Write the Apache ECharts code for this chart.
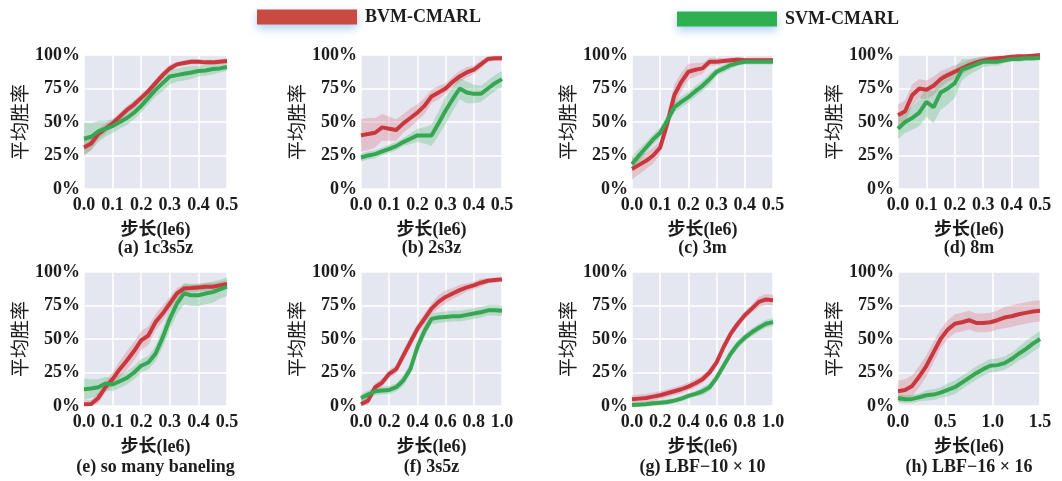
<!DOCTYPE html>
<html><head><meta charset="utf-8">
<script src="https://cdn.jsdelivr.net/npm/echarts@6/dist/echarts.min.js"></script>
<style>html,body{margin:0;padding:0;background:#fff}#c{width:1062px;height:481px}</style>
</head><body><div id="c"></div>
<script>
// ---- data (percent) ----
const x05 = [0,0.025,0.05,0.075,0.1,0.125,0.15,0.175,0.2,0.225,0.25,0.275,0.3,0.325,0.35,0.375,0.4,0.425,0.45,0.475,0.5];
const x10 = [0,0.05,0.1,0.15,0.2,0.25,0.3,0.35,0.4,0.45,0.5,0.55,0.6,0.65,0.7,0.75,0.8,0.85,0.9,0.95,1.0];
const x15 = [0,0.075,0.15,0.225,0.3,0.375,0.45,0.525,0.6,0.675,0.75,0.825,0.9,0.975,1.05,1.125,1.2,1.275,1.35,1.425,1.5];

const titles = ['(a) 1c3s5z','(b) 2s3z','(c) 3m','(d) 8m','(e) so many baneling','(f) 3s5z','(g) LBF\u221210 \u00d7 10','(h) LBF\u221216 \u00d7 16'];
const legendNames = ['BVM-CMARL','SVM-CMARL'];

const redA   = [31,34,41,45,49,54,59,63,68,73,79,85,90,93,94,95,95,94.5,94.5,95,95.5];
const redSA  = [6,5,4,4,3,3,3,3,3,3,3,3,3,2,2,2,2,2,2,2,2];
const grnA   = [37.5,39,43,45,47,50,53,57,62,68,74,79,84,85,86,87,88,88.5,89.5,90,91];
const grnSA  = [12,10,8,6,5,5,5,5,5,5,5,6,6,5,5,5,4,4,4,3,3];

const redB   = [40,41,42,46,45,44,49,53,57,62,69,72,75,80,84,87,89,93,97,97.5,97.5];
const redSB  = [12,12,11,10,9,8,7,7,6,6,5,5,4,4,4,4,3,3,2,2,2];
const grnB   = [23.5,25,26,28,30,32,35,37.5,40,40,40,49,58.6,67,75,72,71,71,75,79,82];
const grnSB  = [3,3,3,3,3,3,3,4,5,6,8,9,10,9,8,8,7,6,6,6,6];

const redC   = [15,18,21,25,31,49,70,80,87.5,89,90,95,95,95.5,96,96.5,96,96,96,96,96];
const redSC  = [8,7,6,6,5,7,8,7,6,5,4,3,3,2,2,2,2,2,2,2,2];
const grnC   = [18.5,25,31,37,42,51,61,65,68.6,73,77,82,87.5,90,92.5,94,95,95,95,95,95];
const grnSC  = [6,5,4,4,4,4,4,4,4,4,4,4,3,3,3,2,2,2,2,2,2];

const redD   = [55,58,70,75,74,77,82,85,87.5,90,92.5,94.5,96,97,97.5,98,98.7,99,99,99.5,100];
const redSD  = [8,8,8,7,7,7,6,5,5,4,4,3,3,2,2,2,2,1,1,1,1];
const grnD   = [45,50,53,57,65,61,72,75,79,89,91,93,95,95,95,96,97,97,97.5,97.5,98];
const grnSD  = [8,8,9,10,11,12,13,12,11,8,6,5,4,3,3,2,2,2,2,2,2];

const redE   = [1.3,1.5,6,14,20,27.5,34,41,49,52.6,62.6,69,76.5,84,87.7,88,88.5,89,89,90,91];
const redSE  = [3,3,4,4,5,6,7,7,7,7,6,6,5,4,3,3,3,3,3,3,3];
const grnE   = [12.5,13,14,16.8,16,18.5,21,25,30,32.5,39,51,65,76.5,84,82.7,82.7,84,85,87,89];
const grnSE  = [8,7,6,5,5,5,5,5,5,5,6,7,8,8,8,8,8,8,8,7,7];

const redF   = [1.3,4,14,17.5,24,27.5,37.6,47.6,57.6,65,72.7,77.7,81.4,84,86.5,88.5,90,92,93.5,94,94.5];
const redSF  = [3,3,3,3,3,3,4,4,4,4,4,5,5,4,4,3,3,3,2,2,2];
const grnF   = [6,8.5,11,11.5,12,14,19,27.6,44,56,65,66,66.5,67,67,68,69,70,71.4,71.5,71];
const grnSF  = [3,3,3,3,3,3,4,4,5,5,4,4,4,4,4,4,4,4,4,4,4];

const redG   = [5,5.5,6,7,8,9.5,11,12.5,14.5,17,20,25,32.5,44,54,61.4,67.7,72.7,77.7,79.5,79];
const redSG  = [3,3,3,3,3,3,3,3,3,3,3,3,3,3,3,3,3,3,4,4,4];
const grnG   = [0.7,1,1.3,2,2.5,3,4,5.5,7.5,9,11,14,21,30,39,46,51,55,58.4,61.4,62.6];
const grnSG  = [2,2,2,2,2,2,2,2,2,2,3,3,3,3,3,3,3,3,3,3,3];

const redH   = [11,12,15,22,30,40,50,57,61.4,62.5,64,62,62,62.5,64,66,67,68.5,69.5,70.5,71];
const redSH  = [8,8,8,8,8,8,7,7,7,7,7,7,7,7,7,8,8,8,8,8,8];
const grnH   = [6,5,5.3,6.5,8,8.5,10,12,14,17.5,21,24.5,27.5,30,30.5,32,35,39,42.5,46.5,50];
const grnSH  = [3,3,3,3,4,4,4,5,5,5,5,5,5,5,5,5,5,5,6,6,6];

const panels = [
  {x:x05, r:redA, rs:redSA, g:grnA, gs:grnSA, max:0.5, step:0.1},
  {x:x05, r:redB, rs:redSB, g:grnB, gs:grnSB, max:0.5, step:0.1},
  {x:x05, r:redC, rs:redSC, g:grnC, gs:grnSC, max:0.5, step:0.1},
  {x:x05, r:redD, rs:redSD, g:grnD, gs:grnSD, max:0.5, step:0.1},
  {x:x05, r:redE, rs:redSE, g:grnE, gs:grnSE, max:0.5, step:0.1},
  {x:x10, r:redF, rs:redSF, g:grnF, gs:grnSF, max:1.0, step:0.2},
  {x:x10, r:redG, rs:redSG, g:grnG, gs:grnSG, max:1.0, step:0.2},
  {x:x15, r:redH, rs:redSH, g:grnH, gs:grnSH, max:1.5, step:0.5}
];

// ---- layout / style ----
const FONT = "'Liberation Serif','Noto Sans CJK SC',serif";
const lefts = [84, 361, 632, 898];
const widths = [143, 141, 141, 142];
const tops = [55, 272];
const H = 134;
const RED = '#c8383e', GRN = '#37a653';
const RED_BAND = 'rgba(214,96,110,0.28)', GRN_BAND = 'rgba(70,180,100,0.28)';
const TXT = '#1c1c1c';

const clamp = v => Math.max(0, Math.min(100, v));
function band(idx, xs, m, s, fill) {
  return {
    type:'custom', xAxisIndex:idx, yAxisIndex:idx, silent:true, z:1,
    data:[[xs[0], m[0]]],
    renderItem:function(params, api){
      const pts = [];
      for (let k=0;k<xs.length;k++) pts.push(api.coord([xs[k], clamp(m[k]+s[k])]));
      for (let k=xs.length-1;k>=0;k--) pts.push(api.coord([xs[k], clamp(m[k]-s[k])]));
      return {type:'polygon', shape:{points:pts}, style:{fill:fill}};
    }
  };
}
function line(idx, name, xs, m, color) {
  return {
    type:'line', name:name, xAxisIndex:idx, yAxisIndex:idx, z:3,
    data: xs.map((v,k)=>[v, m[k]]), showSymbol:false, symbol:'none',
    lineStyle:{color:color, width:4}, itemStyle:{color:color}
  };
}

const grid=[], xAxis=[], yAxis=[], series=[], title=[];
panels.forEach((p,i)=>{
  const col=i%4, row=Math.floor(i/4);
  grid.push({left:lefts[col], top:tops[row], width:widths[col], height:H, show:true, backgroundColor:'#e5e7f0', borderWidth:0, containLabel:false});
  xAxis.push({type:'value', gridIndex:i, min:0, max:p.max, interval:p.step,
    axisLine:{show:false}, axisTick:{show:false},
    splitLine:{show:true, lineStyle:{color:'#ffffff', width:1.5}},
    axisLabel:{fontFamily:FONT, fontSize:18, fontWeight:'bold', color:TXT, margin:7, formatter:v=>v.toFixed(1)},
    name:'步长(le6)', nameLocation:'middle', nameGap:32,
    nameTextStyle:{fontFamily:FONT, fontSize:18, fontWeight:'bold', color:TXT}});
  yAxis.push({type:'value', gridIndex:i, min:0, max:100, interval:25,
    axisLine:{show:false}, axisTick:{show:false},
    splitLine:{show:true, lineStyle:{color:'#ffffff', width:1.5}},
    axisLabel:{fontFamily:FONT, fontSize:18, fontWeight:'bold', color:TXT, margin:4, formatter:'{value}%'},
    name:'平均胜率', nameLocation:'middle', nameGap:51,
    nameTextStyle:{fontFamily:FONT, fontSize:19, fontWeight:'normal', color:TXT}});
  series.push(band(i, p.x, p.r, p.rs, RED_BAND));
  series.push(band(i, p.x, p.g, p.gs, GRN_BAND));
  series.push(line(i, legendNames[0], p.x, p.r, RED));
  series.push(line(i, legendNames[1], p.x, p.g, GRN));
  title.push({text:titles[i], left:lefts[col]+widths[col]/2, top:row===0?239:458, textAlign:'center',
    padding:0, textStyle:{fontFamily:FONT, fontSize:18, fontWeight:'bold', color:TXT}});
});

const chart = echarts.init(document.getElementById('c'), null, {renderer:'canvas'});
chart.setOption({
  animation:false,
  backgroundColor:'#ffffff',
  title:title,
  legend:[
    {data:[{name:legendNames[0], itemStyle:{color:'#c94a40', shadowBlur:8, shadowColor:'rgba(110,170,235,0.55)', shadowOffsetY:4}}],
     left:257, top:8, icon:'rect', itemWidth:100, itemHeight:15, padding:0,
     textStyle:{fontFamily:FONT, fontSize:18, fontWeight:'bold', color:TXT, padding:[0,0,0,3]}},
    {data:[{name:legendNames[1], itemStyle:{color:'#2eb050', shadowBlur:8, shadowColor:'rgba(110,170,235,0.55)', shadowOffsetY:4}}],
     left:677, top:10, icon:'rect', itemWidth:100, itemHeight:15, padding:0,
     textStyle:{fontFamily:FONT, fontSize:18, fontWeight:'bold', color:TXT, padding:[0,0,0,3]}}
  ],
  grid:grid, xAxis:xAxis, yAxis:yAxis, series:series
});
</script></body></html>
